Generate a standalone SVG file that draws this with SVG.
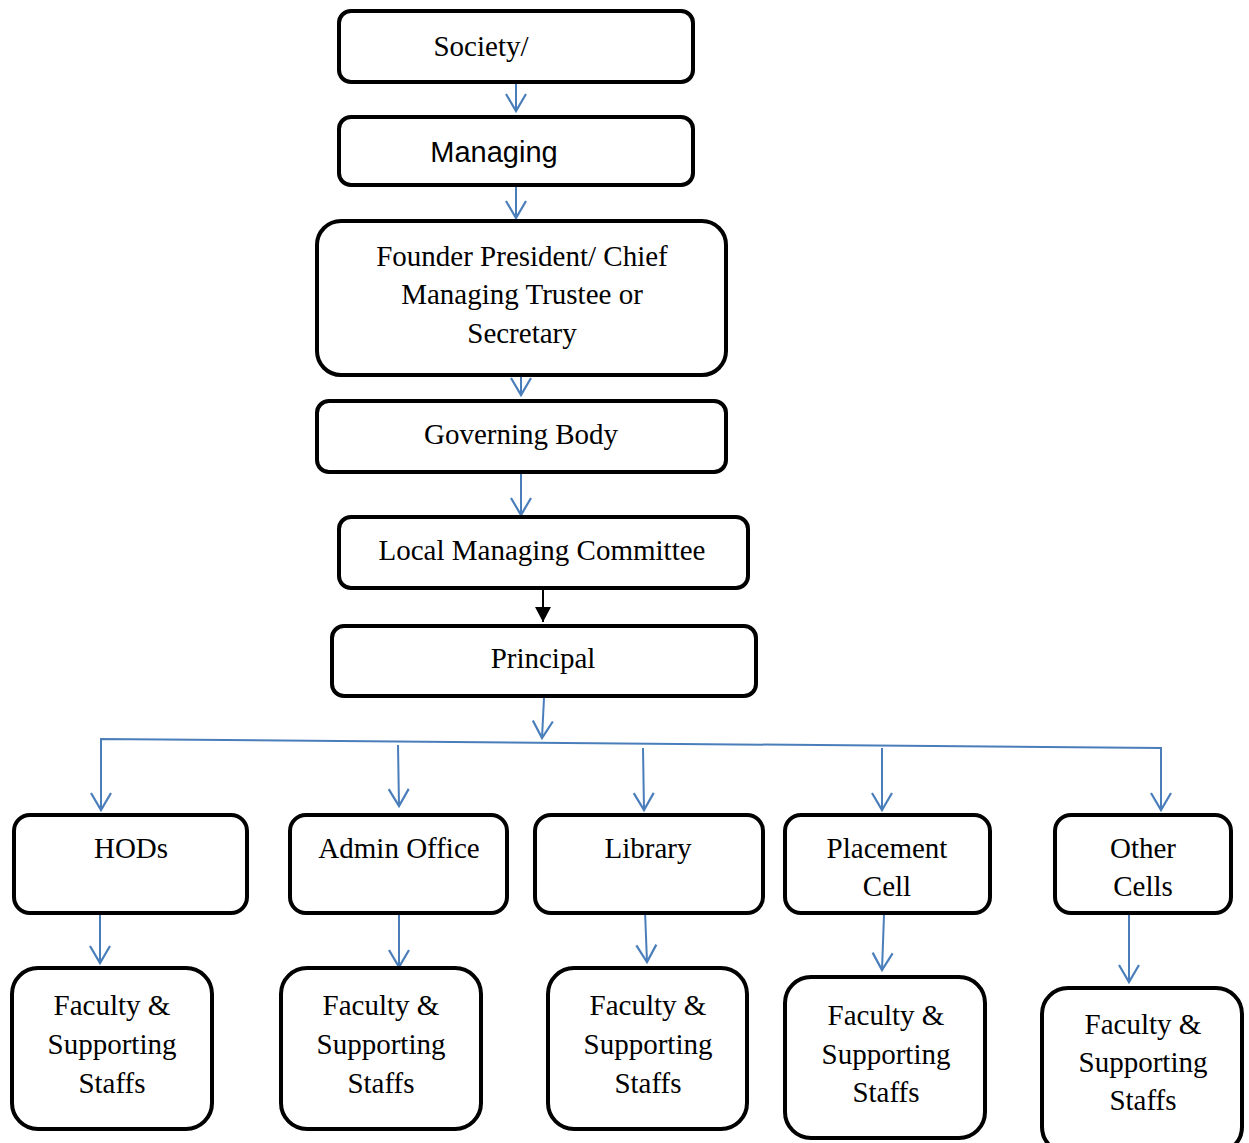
<svg xmlns="http://www.w3.org/2000/svg" width="1249" height="1143" viewBox="0 0 1249 1143">
<defs>
<style>
.box{fill:#fff;stroke:#000;stroke-width:4}
.t{font-family:"Liberation Serif","Times New Roman",serif;font-size:29px;fill:#000;text-anchor:middle}
.s{font-family:"Liberation Sans",Arial,sans-serif;font-size:29px;fill:#000;text-anchor:middle}
.c{fill:none;stroke:#4a7ebb;stroke-width:2}
.k{fill:none;stroke:#000;stroke-width:2}
</style>
<marker id="v" markerUnits="userSpaceOnUse" markerWidth="40" markerHeight="40" viewBox="-20 -20 40 40" refX="0" refY="0" orient="auto" overflow="visible">
<polyline points="-17,-10 0,0 -17,10" fill="none" stroke="#4a7ebb" stroke-width="2.2"/>
</marker>
<marker id="b" markerUnits="userSpaceOnUse" markerWidth="40" markerHeight="40" viewBox="-20 -20 40 40" refX="0" refY="0" orient="auto" overflow="visible">
<polygon points="-15,-8 0,0 -15,8" fill="#000"/>
</marker>
</defs>
<rect width="1249" height="1143" fill="#fff"/>
<g id="connectors">
<line class="c" x1="516" y1="83" x2="516" y2="111" marker-end="url(#v)"/>
<line class="c" x1="516" y1="186" x2="516" y2="218" marker-end="url(#v)"/>
<line class="c" x1="521" y1="376" x2="521" y2="395" marker-end="url(#v)"/>
<line class="c" x1="521" y1="473" x2="521" y2="515" marker-end="url(#v)"/>
<line class="k" x1="543" y1="589" x2="543" y2="622" marker-end="url(#b)"/>
<line class="c" x1="544" y1="698" x2="542" y2="738" marker-end="url(#v)"/>
<polyline class="c" points="101,810 101,739 1161,748 1161,810" marker-end="url(#v)"/>
<line class="c" x1="101" y1="780" x2="101" y2="810" marker-end="url(#v)"/>
<line class="c" x1="398" y1="745" x2="399" y2="806" marker-end="url(#v)"/>
<line class="c" x1="643" y1="748" x2="644" y2="810" marker-end="url(#v)"/>
<line class="c" x1="882" y1="748" x2="882" y2="810" marker-end="url(#v)"/>
<line class="c" x1="100" y1="913" x2="100" y2="963" marker-end="url(#v)"/>
<line class="c" x1="399" y1="914" x2="399" y2="967" marker-end="url(#v)"/>
<line class="c" x1="645" y1="911" x2="647" y2="962" marker-end="url(#v)"/>
<line class="c" x1="884" y1="915" x2="882" y2="970" marker-end="url(#v)"/>
<line class="c" x1="1129" y1="913" x2="1129" y2="982" marker-end="url(#v)"/>
</g>
<g id="society"><rect class="box" x="339" y="11" width="354" height="71" rx="12"/><text class="t" x="481" y="56">Society/</text></g>
<g id="managing"><rect class="box" x="339" y="117" width="354" height="68" rx="12"/><text class="s" x="494" y="162">Managing</text></g>
<g id="founder"><rect class="box" x="317" y="221" width="409" height="154" rx="24"/>
<text class="t" x="522" y="266">Founder President/ Chief</text>
<text class="t" x="522" y="304">Managing Trustee or</text>
<text class="t" x="522" y="343">Secretary</text></g>
<g id="governing"><rect class="box" x="317" y="401" width="409" height="71" rx="12"/><text class="t" x="521" y="444">Governing Body</text></g>
<g id="lmc"><rect class="box" x="339" y="517" width="409" height="71" rx="12"/><text class="t" x="542" y="560">Local Managing Committee</text></g>
<g id="principal"><rect class="box" x="332" y="626" width="424" height="70" rx="12"/><text class="t" x="543" y="668">Principal</text></g>
<g id="hods"><rect class="box" x="14" y="815" width="233" height="98" rx="16"/><text class="t" x="131" y="858">HODs</text></g>
<g id="admin"><rect class="box" x="290" y="815" width="217" height="98" rx="16"/><text class="t" x="399" y="858">Admin Office</text></g>
<g id="library"><rect class="box" x="535" y="815" width="228" height="98" rx="16"/><text class="t" x="648" y="858">Library</text></g>
<g id="placement"><rect class="box" x="785" y="815" width="205" height="98" rx="16"/><text class="t" x="887" y="858">Placement</text><text class="t" x="887" y="896">Cell</text></g>
<g id="other"><rect class="box" x="1055" y="815" width="176" height="98" rx="16"/><text class="t" x="1143" y="858">Other</text><text class="t" x="1143" y="896">Cells</text></g>
<g id="staff1"><rect class="box" x="12" y="968" width="200" height="161" rx="26"/><text class="t" x="112" y="1015">Faculty &amp;</text><text class="t" x="112" y="1054">Supporting</text><text class="t" x="112" y="1093">Staffs</text></g>
<g id="staff2"><rect class="box" x="281" y="968" width="200" height="161" rx="26"/><text class="t" x="381" y="1015">Faculty &amp;</text><text class="t" x="381" y="1054">Supporting</text><text class="t" x="381" y="1093">Staffs</text></g>
<g id="staff3"><rect class="box" x="548" y="968" width="199" height="161" rx="26"/><text class="t" x="648" y="1015">Faculty &amp;</text><text class="t" x="648" y="1054">Supporting</text><text class="t" x="648" y="1093">Staffs</text></g>
<g id="staff4"><rect class="box" x="785" y="977" width="200" height="161" rx="26"/><text class="t" x="886" y="1025">Faculty &amp;</text><text class="t" x="886" y="1064">Supporting</text><text class="t" x="886" y="1102">Staffs</text></g>
<g id="staff5"><rect class="box" x="1042" y="988" width="200" height="165" rx="26"/><text class="t" x="1143" y="1034">Faculty &amp;</text><text class="t" x="1143" y="1072">Supporting</text><text class="t" x="1143" y="1110">Staffs</text></g>
</svg>
